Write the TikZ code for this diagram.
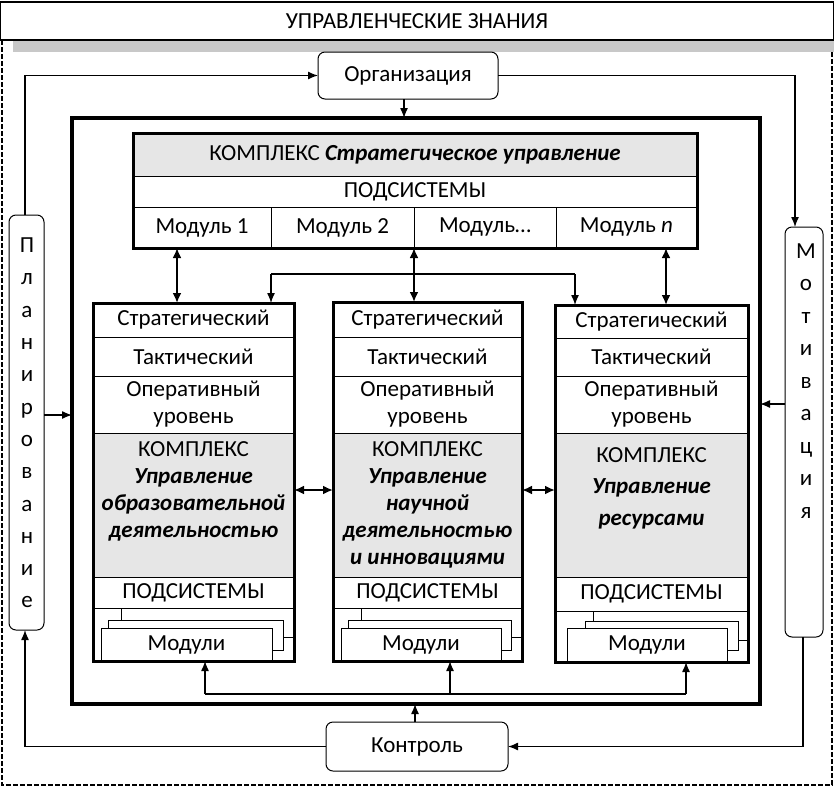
\documentclass[tikz,border=0pt]{standalone}
\usepackage{fontspec}
\setmainfont{Carlito}
\usetikzlibrary{arrows.meta}
\definecolor{cgray}{RGB}{230,230,230}
\definecolor{bargray}{RGB}{200,200,200}
\newcommand\bx[7][]{\node[cell,#1,minimum width={#5pt-#3pt},minimum height={#6pt-#4pt}] (#2) at ({(#3+#5)/2},{(#4+#6)/2}) {#7};}
\newcommand\bi[1]{\textbf{\textit{#1}}}
\begin{document}
\begin{tikzpicture}[x=1pt,y=-1pt,
  every node/.style={inner sep=0pt, outer sep=0pt, font=\fontsize{23}{27}\selectfont},
  cell/.style={draw, line width=1pt, align=center},
  heavy/.style={draw, line width=3pt},
  rbox/.style={draw, line width=1pt, rounded corners=7pt, fill=white},
  conn/.style={line width=1.3pt, -{Latex[length=10pt,width=8pt]}},
  plain/.style={line width=1.3pt},
  dbl/.style={line width=2pt, {Latex[length=10pt,width=9pt]}-{Latex[length=10pt,width=9pt]}},
]
\useasboundingbox (0,0) rectangle (834,787);
% title and frame
\draw[line width=1.2pt, dash pattern=on 5pt off 2pt] (2,40) -- (2,785) -- (832,785) -- (832,40);
\bx[line width=1.2pt, fill=white]{title}{0}{2}{834}{40}{УПРАВЛЕНЧЕСКИЕ ЗНАНИЯ}
\bx[draw=none, fill=bargray]{bar}{13}{41}{834}{52}{}
% outer functions
\bx[rbox]{org}{318}{52}{498}{99}{Организация}
\bx[rbox]{ctrl}{326}{722}{508}{771}{Контроль}
\bx[rbox]{plan}{9}{215}{44}{630}{}
\node[align=center, font=\fontsize{23}{32.3}\selectfont] (plantxt) at (27,423) {П\\л\\а\\н\\и\\р\\о\\в\\а\\н\\и\\е};
\bx[rbox]{motiv}{785}{227}{823}{637}{}
\node[align=center, font=\fontsize{23}{32.5}\selectfont] (motivtxt) at (806,381) {М\\о\\т\\и\\в\\а\\ц\\и\\я};
% inner frame
\bx[line width=3.5pt]{inner}{72}{118}{760}{704}{}
% strategic complex
\bx[fill=cgray]{Ck}{133}{133}{697}{176}{КОМПЛЕКС \bi{Стратегическое управление}}
\bx{Cp}{133}{176}{697}{207}{ПОДСИСТЕМЫ}
\bx{M1}{133}{207}{271}{248}{Модуль 1}
\bx{M2}{271}{207}{414}{248}{Модуль 2}
\bx{M3}{414}{207}{556}{248}{Модуль…}
\bx{Mn}{556}{207}{697}{248}{Модуль \textit{n}}
\bx[heavy]{C}{133}{133}{697}{248}{}
% left column
\bx{Ls}{93}{303}{294}{337}{Стратегический}
\bx{Lt}{93}{337}{294}{376}{Тактический}
\bx{Lo}{93}{376}{294}{433}{Оперативный\\уровень}
\bx[fill=cgray]{Lk}{93}{433}{294}{577}{}
\node[align=center] (Lktxt) at (193.5,491) {КОМПЛЕКС\\\bi{Управление}\\\bi{образовательной}\\\bi{деятельностью}};
\bx{Lp}{93}{577}{294}{608}{ПОДСИСТЕМЫ}
\bx[fill=white]{Lm3}{121}{608}{294}{637}{}
\bx[fill=white]{Lm2}{108}{620}{283}{650}{}
\bx[fill=white]{Lm1}{101}{628}{272}{661}{Модули}
\bx[heavy]{L}{93}{303}{294}{661}{}
% middle column
\bx{Ms}{333}{302}{522}{337}{Стратегический}
\bx{Mt}{333}{337}{522}{376}{Тактический}
\bx{Mo}{333}{376}{522}{433}{Оперативный\\уровень}
\bx[fill=cgray]{Mk}{333}{433}{522}{577}{}
\node[align=center] (Mktxt) at (427.5,505) {КОМПЛЕКС\\\bi{Управление}\\\bi{научной}\\\bi{деятельностью}\\\bi{и инновациями}};
\bx{Mp}{333}{577}{522}{608}{ПОДСИСТЕМЫ}
\bx[fill=white]{Mm3}{361}{608}{522}{637}{}
\bx[fill=white]{Mm2}{348}{620}{511}{650}{}
\bx[fill=white]{Mm1}{341}{628}{501}{661}{Модули}
\bx[heavy]{Mid}{333}{302}{522}{661}{}
% right column
\bx{Rs}{555}{305}{748}{338}{Стратегический}
\bx{Rt}{555}{338}{748}{376}{Тактический}
\bx{Ro}{555}{376}{748}{433}{Оперативный\\уровень}
\bx[fill=cgray]{Rk}{555}{433}{748}{577}{}
\node[align=center, font=\fontsize{23}{31.5}\selectfont] (Rktxt) at (651.5,488) {КОМПЛЕКС\\\bi{Управление}\\\bi{ресурсами}};
\bx{Rp}{555}{577}{748}{611}{ПОДСИСТЕМЫ}
\bx[fill=white]{Rm3}{593}{611}{748}{640}{}
\bx[fill=white]{Rm2}{585}{621}{738}{650}{}
\bx[fill=white]{Rm1}{567}{628}{727}{662}{Модули}
\bx[heavy]{R}{555}{305}{748}{662}{}
% helper coordinates
\coordinate (xl) at (25,0);
\coordinate (xr) at (795,0);
\coordinate (xr2) at (803,0);
\coordinate (a1) at (177,0);
\coordinate (a2) at (414,0);
\coordinate (a3) at (666,0);
\coordinate (bl) at (271,274);
\coordinate (br) at (575,274);
\coordinate (b1) at (205,694);
\coordinate (b2) at (450,694);
\coordinate (b3) at (686,694);
\coordinate (ya) at (0,415);
\coordinate (yb) at (0,404);
\coordinate (yc) at (0,490);
% cycle connectors
\draw[conn] (plan.north -| xl) |- (org.west);
\draw[conn] (org.east) -| (motiv.north -| xr);
\draw[conn] (motiv.south -| xr2) |- (ctrl.east);
\draw[conn] (ctrl.west) -| (plan.south -| xl);
\draw[conn] (org.south -| 404,0) -- (inner.north -| 404,0);
\draw[conn] (ctrl.north -| 415,0) -- (inner.south -| 415,0);
\draw[conn] (plan.east |- ya) -- (inner.west |- ya);
\draw[conn] (motiv.west |- yb) -- (inner.east |- yb);
% strategic to columns
\draw[dbl] (C.south -| a1) -- (L.north -| a1);
\draw[dbl] (C.south -| a2) -- (Mid.north -| a2);
\draw[dbl] (C.south -| a3) -- (R.north -| a3);
\draw[plain] (bl) -- (br);
\draw[conn] (bl) -- (L.north -| bl);
\draw[conn] (br) -- (R.north -| br);
% between columns
\draw[dbl] (L.east |- yc) -- (Mid.west |- yc);
\draw[dbl] (Mid.east |- yc) -- (R.west |- yc);
% bottom
\draw[plain] (b1) -- (b3);
\draw[conn] (b1) -- (L.south -| b1);
\draw[conn] (b2) -- (Mid.south -| b2);
\draw[conn] (b3) -- (R.south -| b3);
\end{tikzpicture}
\end{document}
